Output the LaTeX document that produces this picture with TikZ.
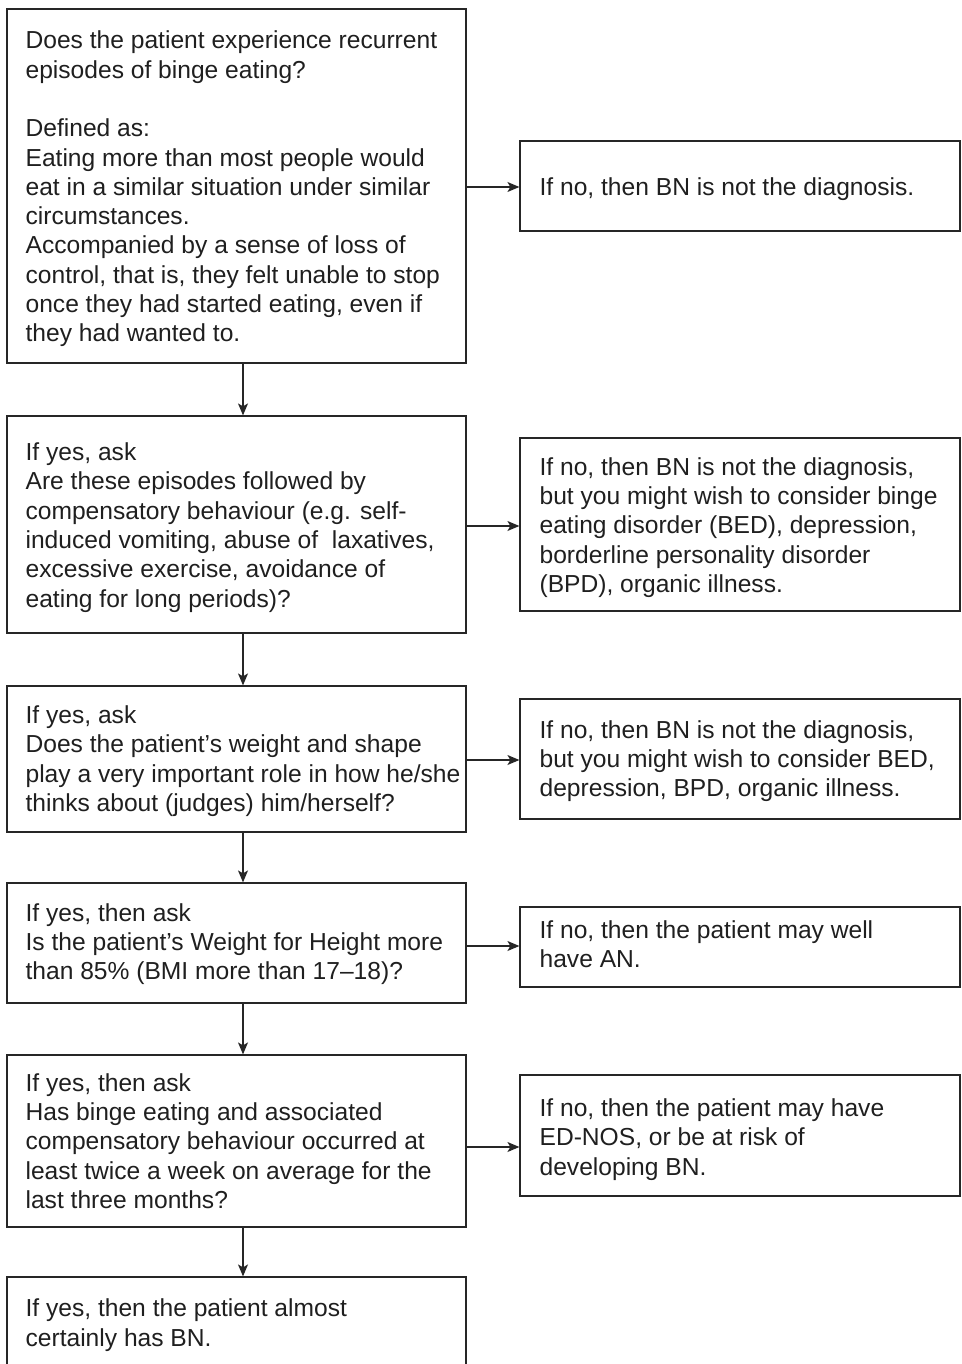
\documentclass[tikz,border=0pt]{standalone}
\usepackage{fontspec}
\setmainfont{Liberation Sans}
\usetikzlibrary{arrows.meta}
\begin{document}
\begin{tikzpicture}[x=1pt,y=-1pt,
  box/.style={draw=black!85, line width=1.2pt, rectangle, inner sep=0pt},
  lbox/.style={box, minimum width=459pt},
  rbox/.style={box, minimum width=440pt},
  txt/.style={anchor=west, align=left, inner sep=0pt, text=black!88,
    font=\fontsize{24.6}{29.3}\selectfont},
  arr/.style={draw=black!85, line width=1.2pt, -{Stealth[length=12pt,width=10pt,inset=3pt]}}]
\useasboundingbox (0,0) rectangle (961,1364);
\clip (0,0) rectangle (961,1364);
% left column
\node[lbox, minimum height=354pt] (q1) at (236.5,186) {};
\node[lbox, minimum height=217pt] (q2) at (236.5,524.5) {};
\node[lbox, minimum height=146pt] (q3) at (236.5,759) {};
\node[lbox, minimum height=120pt] (q4) at (236.5,943) {};
\node[lbox, minimum height=172pt] (q5) at (236.5,1141) {};
\node[lbox, minimum height=100pt] (q6) at (236.5,1327) {};
% right column
\node[rbox, minimum height=90pt] (r1) at (740,186) {};
\node[rbox, minimum height=173pt] (r2) at (740,524.5) {};
\node[rbox, minimum height=120pt] (r3) at (740,759) {};
\node[rbox, minimum height=80pt] (r4) at (740,947) {};
\node[rbox, minimum height=121pt] (r5) at (740,1135.5) {};
% texts
\node[txt] (q1t) at ([xshift=19pt,yshift=-3pt]q1.west) {Does the patient experience recurrent\\episodes of binge eating?\\[29.3pt]Defined as:\\Eating more than most people would\\eat in a similar situation under similar\\circumstances.\\Accompanied by a sense of loss of\\control, that is, they felt unable to stop\\once they had started eating, even if\\they had wanted to.};
\node[txt] (q2t) at ([xshift=19pt,yshift=-3pt]q2.west) {If yes, ask\\Are these episodes followed by\\compensatory behaviour (e.g. self-\\induced vomiting, abuse of\ \ laxatives,\\excessive exercise, avoidance of\\eating for long periods)?};
\node[txt] (q3t) at ([xshift=19pt,yshift=-2pt]q3.west) {If yes, ask\\Does the patient’s weight and shape\\play a very important role in how he/she\\thinks about (judges) him/herself?};
\node[txt] (q4t) at ([xshift=19pt,yshift=-1pt]q4.west) {If yes, then ask\\Is the patient’s Weight for Height more\\than 85\% (BMI more than 17--18)?};
\node[txt] (q5t) at ([xshift=19pt]q5.west) {If yes, then ask\\Has binge eating and associated\\compensatory behaviour occurred at\\least twice a week on average for the\\last three months?};
\node[txt] (q6t) at ([xshift=19pt,yshift=2pt]q6.west) {If yes, then the patient almost\\certainly has BN.};
\node[txt] (r1t) at ([xshift=20pt,yshift=-3pt]r1.west) {If no, then BN is not the diagnosis.};
\node[txt] (r2t) at ([xshift=20pt,yshift=-3pt]r2.west) {If no, then BN is not the diagnosis,\\but you might wish to consider binge\\eating disorder (BED), depression,\\borderline personality disorder\\(BPD), organic illness.};
\node[txt] (r3t) at ([xshift=20pt,yshift=-2pt]r3.west) {If no, then BN is not the diagnosis,\\but you might wish to consider BED,\\depression, BPD, organic illness.};
\node[txt] (r4t) at ([xshift=20pt,yshift=3pt]r4.west) {If no, then the patient may well\\have AN.};
\node[txt] (r5t) at ([xshift=20pt,yshift=-4pt]r5.west) {If no, then the patient may have\\ED-NOS, or be at risk of\\developing BN.};
% vertical arrows
\draw[arr] ([xshift=6.5pt]q1.south) -- ([xshift=6.5pt]q2.north);
\draw[arr] ([xshift=6.5pt]q2.south) -- ([xshift=6.5pt]q3.north);
\draw[arr] ([xshift=6.5pt]q3.south) -- ([xshift=6.5pt]q4.north);
\draw[arr] ([xshift=6.5pt]q4.south) -- ([xshift=6.5pt]q5.north);
\draw[arr] ([xshift=6.5pt]q5.south) -- ([xshift=6.5pt]q6.north);
% horizontal arrows
\draw[arr] ([yshift=-1pt]q1.east) -- ([yshift=-1pt]q1.east -| r1.west);
\draw[arr] ([yshift=-1.5pt]q2.east) -- ([yshift=-1.5pt]q2.east -| r2.west);
\draw[arr] ([yshift=-1pt]q3.east) -- ([yshift=-1pt]q3.east -| r3.west);
\draw[arr] ([yshift=-3pt]q4.east) -- ([yshift=-3pt]q4.east -| r4.west);
\draw[arr] ([yshift=-6pt]q5.east) -- ([yshift=-6pt]q5.east -| r5.west);
\end{tikzpicture}
\end{document}
